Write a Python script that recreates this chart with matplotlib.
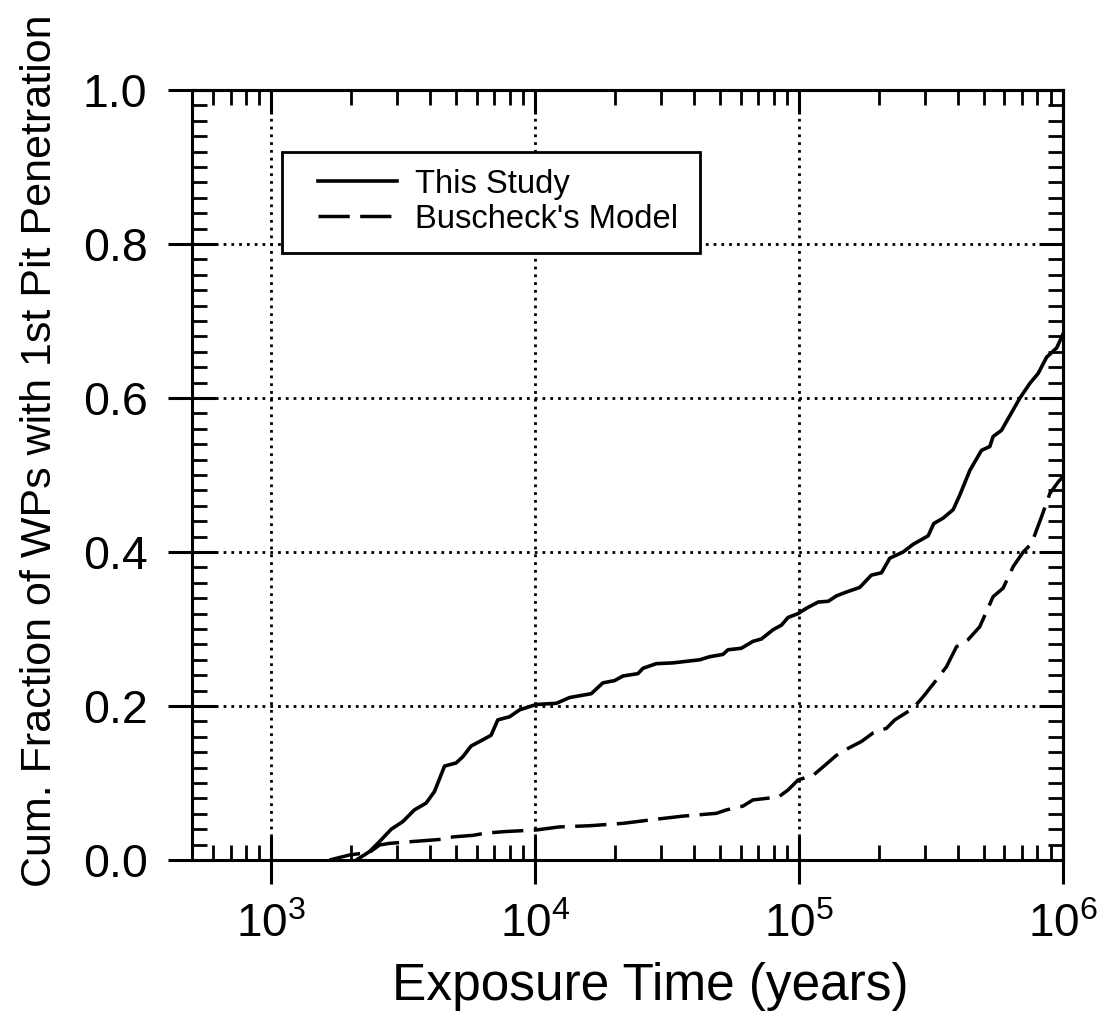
#!/usr/bin/env python3
"""Cumulative fraction of waste packages with 1st pit penetration vs exposure time (log x)."""
import matplotlib
matplotlib.use("Agg")
import matplotlib.pyplot as plt
from matplotlib.patches import Rectangle
from matplotlib.ticker import MultipleLocator, LogLocator, FixedLocator, NullFormatter

# --- data ---
study_t = [2100, 2355, 2570, 2845, 3150, 3480, 3860, 4150, 4530, 5010, 5310, 5710, 6320, 6800,
           7210, 7990, 8720, 10090, 12020, 13490, 16300, 18030, 19990, 21500, 24490, 25600, 28760,
           33250, 41980, 45800, 51430, 53740, 60390, 66830, 71930, 79600, 85690, 90780, 99110,
           106600, 118100, 128900, 138500, 151100, 169700, 187900, 205100, 220600, 247800, 270400,
           308300, 323800, 351300, 383500, 406400, 443600, 491000, 528000, 543400, 584500, 686600,
           748800, 805500, 866800, 946100, 1000000]
study_f = [0.0, 0.011, 0.024, 0.040, 0.050, 0.065, 0.074, 0.089, 0.122, 0.126, 0.134, 0.148, 0.156,
           0.162, 0.182, 0.186, 0.195, 0.202, 0.2035, 0.211, 0.216, 0.230, 0.233, 0.239, 0.242, 0.249,
           0.255, 0.256, 0.260, 0.264, 0.267, 0.273, 0.275, 0.284, 0.287, 0.299, 0.305, 0.315, 0.320,
           0.327, 0.335, 0.336, 0.343, 0.348, 0.354, 0.370, 0.373, 0.392, 0.400, 0.410, 0.421, 0.437,
           0.444, 0.455, 0.474, 0.506, 0.532, 0.537, 0.550, 0.558, 0.600, 0.619, 0.632, 0.653, 0.665,
           0.683]

busch_t = [1660, 1977, 2355, 2570, 2800, 3434, 4466, 4875, 5800, 6510, 7760, 10090, 12360, 16070,
           21500, 28760, 36310, 48570, 52930, 61220, 66830, 79600, 83700, 90800, 99100, 113000,
           123300, 138500, 153400, 172400, 190600, 214200, 230500, 270400, 295100, 331600, 361700,
           394800, 436400, 483700, 543400, 592900, 647400, 706600, 760000, 829600, 891600, 959000,
           1000000]
busch_f = [0.0, 0.0065, 0.010, 0.0195, 0.0216, 0.024, 0.027, 0.030, 0.032, 0.035, 0.037, 0.039,
           0.043, 0.0445, 0.0476, 0.053, 0.057, 0.0606, 0.065, 0.070, 0.078, 0.081, 0.082, 0.091,
           0.104, 0.110, 0.121, 0.136, 0.145, 0.154, 0.165, 0.171, 0.182, 0.197, 0.212, 0.234, 0.251,
           0.277, 0.286, 0.303, 0.342, 0.353, 0.381, 0.400, 0.411, 0.446, 0.476, 0.491, 0.498]

x_major = [1e3, 1e4, 1e5, 1e6]
x_labels = [r"$\mathregular{10^3}$", r"$\mathregular{10^4}$", r"$\mathregular{10^5}$",
            r"$\mathregular{10^6}$"]
y_major = [0.0, 0.2, 0.4, 0.6, 0.8, 1.0]

plt.rcParams.update({"font.family": ["Liberation Sans", "DejaVu Sans"],
                     "mathtext.fontset": "custom", "mathtext.rm": "Liberation Sans",
                     "axes.linewidth": 2.2})

fig = plt.figure(figsize=(11.04, 10.13), dpi=100)
ax = fig.add_axes([192 / 1104, 153 / 1013, 871 / 1104, 770 / 1013])

ax.plot(study_t, study_f, "-", color="black", lw=2.6, label="This Study")
ax.plot(busch_t, busch_f, color="black", lw=2.5, dashes=(9, 3), label="Buscheck's Model")

ax.set_xscale("log")
ax.set_xlim(500, 1e6)
ax.set_ylim(0, 1.0)
ax.xaxis.set_major_locator(FixedLocator(x_major))
ax.set_xticklabels(x_labels)
ax.xaxis.set_minor_locator(LogLocator(base=10, subs=range(2, 10), numticks=20))
ax.xaxis.set_minor_formatter(NullFormatter())
ax.yaxis.set_major_locator(FixedLocator(y_major))
ax.set_yticklabels([f"{v:.1f}" for v in y_major])
ax.yaxis.set_minor_locator(MultipleLocator(0.02))

ax.tick_params(which="major", direction="inout", length=34, width=2.2)
ax.tick_params(which="minor", direction="in", length=11, width=2.0)
ax.tick_params(axis="y", which="major", labelsize=33.5, pad=15)
ax.tick_params(axis="x", which="major", labelsize=33, pad=14)

# inward-only ticks on the top and right edges
top = ax.secondary_xaxis("top")
top.xaxis.set_major_locator(FixedLocator(x_major))
top.xaxis.set_minor_locator(LogLocator(base=10, subs=range(2, 10), numticks=20))
top.tick_params(which="major", direction="in", length=17, width=2.2, labeltop=False)
top.tick_params(which="minor", direction="in", length=11, width=2.0)
top.xaxis.set_major_formatter(NullFormatter())
top.xaxis.set_minor_formatter(NullFormatter())
right = ax.secondary_yaxis("right")
right.yaxis.set_major_locator(FixedLocator(y_major))
right.yaxis.set_minor_locator(MultipleLocator(0.02))
right.tick_params(which="major", direction="in", length=17, width=2.2, labelright=False)
right.tick_params(which="minor", direction="in", length=11, width=2.0)

ax.grid(True, which="major", color="black", lw=2.0, ls=(0, (1, 1.8)))

ax.set_xlabel("Exposure Time (years)", fontsize=37)
ax.xaxis.set_label_coords(0.526, -0.133)
ax.set_ylabel("Cum. Fraction of WPs with 1st Pit Penetration", fontsize=31)
ax.yaxis.set_label_coords(-0.152, 0.532)

# legend: frameless entries inside a hand-placed box (wide side padding as in the original)
leg = ax.legend(loc="upper left", bbox_to_anchor=(0.1447, 0.8977), borderaxespad=0, borderpad=0,
                fontsize=23.6, handlelength=2.4, handletextpad=0.55, labelspacing=0.12,
                frameon=False)
ax.add_patch(Rectangle((0.103, 0.788), 0.480, 0.132, transform=ax.transAxes, fill=True,
                       facecolor="white", edgecolor="black", lw=2.0, zorder=4))
leg.set_zorder(5)

fig.savefig("out.png", dpi=100)
